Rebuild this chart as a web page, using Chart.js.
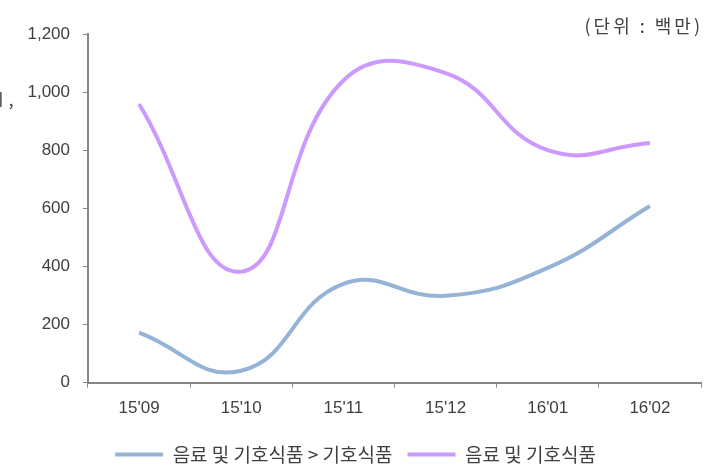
<!DOCTYPE html>
<html>
<head>
<meta charset="utf-8">
<script src="https://cdn.jsdelivr.net/npm/chart.js@4"></script>
<style>
  html, body { margin: 0; padding: 0; background: #fff; }
  #wrap { width: 712px; height: 469px; }
</style>
</head>
<body>
<div id="wrap"><canvas id="lineChart"></canvas></div>
<script>
var months = ["15'09", "15'10", "15'11", "15'12", "16'01", "16'02"];
var subValues = [172, 41, 340, 299, 395, 608];
var totalValues = [959, 382, 1040, 1065, 800, 825];
var subLabel = "음료 및 기호식품 > 기호식품";
var totalLabel = "음료 및 기호식품";
var unitText = "(단위 : 백만)";

var fontFamily = "'Liberation Sans', 'Noto Sans CJK KR', sans-serif";
var axisColor = "#868686";
var textColor = "#404040";

// unit caption and the clipped fragment at the left edge
var extraText = {
  id: "extraText",
  afterDraw: function (chart) {
    var ctx = chart.ctx;
    ctx.save();
    ctx.fillStyle = textColor;
    ctx.font = "18px 'Noto Sans CJK KR', sans-serif";
    ctx.letterSpacing = "3px";
    ctx.textAlign = "right";
    ctx.textBaseline = "middle";
    ctx.fillText(unitText, 703, 26);
    ctx.letterSpacing = "0px";
    ctx.font = "17px 'Noto Sans CJK KR', sans-serif";
    ctx.textAlign = "left";
    ctx.fillText("ㅣ,", -7, 100);
    ctx.restore();
  }
};

new Chart("lineChart", {
  type: "line",
  data: {
    labels: months,
    datasets: [
      {
        label: subLabel,
        data: subValues,
        borderColor: "#95B3D7",
        backgroundColor: "#95B3D7",
        borderWidth: 4,
        pointRadius: 0,
        fill: false,
        tension: 0.45,
      },
      {
        label: totalLabel,
        data: totalValues,
        borderColor: "#CC99FF",
        backgroundColor: "#CC99FF",
        borderWidth: 4,
        pointRadius: 0,
        fill: false,
        tension: 0.45,
      },
    ],
  },
  options: {
    responsive: true,
    maintainAspectRatio: false,
    animation: false,
    layout: { padding: { left: 10, right: 11, top: 34, bottom: -5 } },
    scales: {
      x: {
        offset: true,
        grid: { display: true, drawOnChartArea: false, offset: true, tickLength: 5, color: axisColor },
        border: { color: axisColor, width: 2 },
        ticks: { color: textColor, font: { family: fontFamily, size: 17 }, padding: 11 },
      },
      y: {
        min: 0,
        max: 1200,
        afterFit: function (s) { s.width = 78; },
        grid: { display: true, drawOnChartArea: false, tickLength: 5, color: axisColor },
        border: { color: axisColor, width: 2 },
        ticks: { stepSize: 200, color: textColor, font: { family: fontFamily, size: 17 }, padding: 13 },
      },
    },
    plugins: {
      legend: {
        display: true,
        position: "bottom",
        labels: {
          usePointStyle: true,
          pointStyle: "line",
          pointStyleWidth: 48,
          color: textColor,
          font: { family: "'Noto Sans CJK KR', sans-serif", size: 19 },
          padding: 15,
        },
      },
      tooltip: { enabled: false },
    },
  },
  plugins: [extraText],
});
</script>
</body>
</html>
